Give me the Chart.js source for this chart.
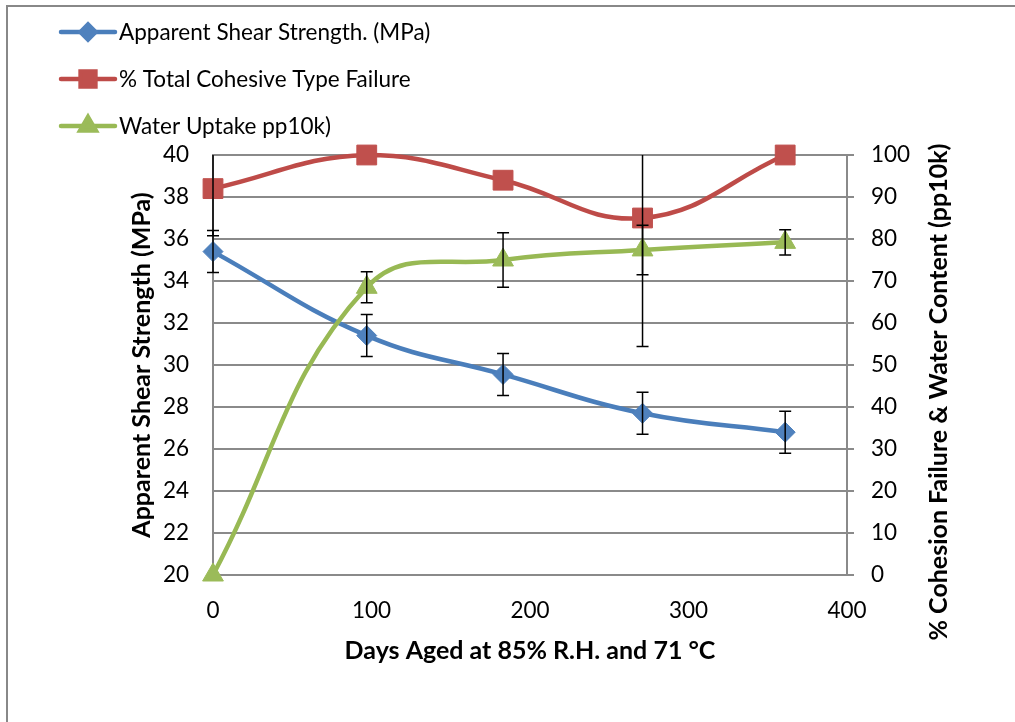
<!DOCTYPE html>
<html>
<head>
<meta charset="utf-8">
<script src="https://cdn.jsdelivr.net/npm/chart.js@4/dist/chart.umd.min.js"></script>
<style>
    html, body { margin: 0; padding: 0; background: #fff; overflow: hidden; }
    #wrap { position: relative; width: 1015px; height: 722px; }
</style>
</head>
<body>
<div id="wrap"><canvas id="agingChart"></canvas></div>
<script>
// Days aged and measured values
const days = [0, 97, 183, 271, 361];
const shearStrength = [35.4, 31.4, 29.55, 27.7, 26.8];
const shearError = [1.0, 1.0, 1.0, 1.0, 1.0];
const cohesiveFailure = [92, 100, 94, 85, 100];
const cohesiveError = [11.2, 0, 0, 30.6, 0];
const waterUptake = [0, 68.5, 75, 77.4, 79.2];
const waterError = [0, 3.7, 6.5, 5.9, 3];

const leftTicks = [20, 22, 24, 26, 28, 30, 32, 34, 36, 38, 40];
const rightTicks = [0, 10, 20, 30, 40, 50, 60, 70, 80, 90, 100];
const xTicks = [0, 100, 200, 300, 400];

const FONT = "Lato, 'Open Sans', sans-serif";
const GRID = '#8a8a8a';
const TICK_SIZE = 22.5;
const TITLE_SIZE = 25;

const toPoints = (ys) => days.map((d, i) => ({ x: d, y: ys[i] }));

// Black error bars with caps, clipped at the plot edges
const errorBars = {
    id: 'errorBars',
    afterDatasetsDraw(chart) {
        const { ctx, chartArea } = chart;
        ctx.save();
        ctx.strokeStyle = '#000';
        ctx.lineWidth = 1.5;
        chart.data.datasets.forEach((ds, i) => {
            if (!ds.errors) return;
            const meta = chart.getDatasetMeta(i);
            const yScale = chart.scales[ds.yAxisID];
            meta.data.forEach((pt, j) => {
                const err = ds.errors[j];
                if (!err) return;
                const v = ds.data[j].y;
                let top = yScale.getPixelForValue(v + err);
                let bot = yScale.getPixelForValue(v - err);
                const capTop = top >= chartArea.top;
                const capBot = bot <= chartArea.bottom;
                top = Math.max(top, chartArea.top);
                bot = Math.min(bot, chartArea.bottom);
                ctx.beginPath();
                ctx.moveTo(pt.x, top);
                ctx.lineTo(pt.x, bot);
                if (capTop) { ctx.moveTo(pt.x - 6, top); ctx.lineTo(pt.x + 6, top); }
                if (capBot) { ctx.moveTo(pt.x - 6, bot); ctx.lineTo(pt.x + 6, bot); }
                ctx.stroke();
            });
        });
        ctx.restore();
    }
};

// Stacked legend in the top-left corner, outer frame and right axis title
const decorations = {
    id: 'decorations',
    beforeDraw(chart) {
        const ctx = chart.ctx;
        ctx.save();
        ctx.strokeStyle = '#888';
        ctx.lineWidth = 2;
        ctx.strokeRect(7, 6, 1100, 800);
        ctx.restore();
    },
    afterDraw(chart) {
        const ctx = chart.ctx;
        const rows = [32, 79, 126];
        ctx.save();
        chart.data.datasets.forEach((ds, i) => {
            const y = rows[i];
            ctx.strokeStyle = ds.borderColor;
            ctx.lineWidth = 4.5;
            ctx.lineCap = 'round';
            ctx.beginPath();
            ctx.moveTo(61, y);
            ctx.lineTo(115, y);
            ctx.stroke();
            ctx.fillStyle = ds.pointBackgroundColor;
            ctx.strokeStyle = ds.pointBackgroundColor;
            Chart.helpers.drawPoint(ctx, {
                pointStyle: ds.pointStyle,
                radius: ds.pointRadius * 0.75,
                rotation: 0,
                borderWidth: 1
            }, 88, y);
            ctx.fillStyle = '#000';
            ctx.font = TICK_SIZE + 'px ' + FONT;
            ctx.textBaseline = 'middle';
            ctx.textAlign = 'left';
            ctx.fillText(ds.label, 119, y + 1);
        });

        const right = chart.scales.yRight;
        ctx.translate(right.right - 17, (chart.chartArea.top + chart.chartArea.bottom) / 2 + 27);
        ctx.rotate(-Math.PI / 2);
        ctx.font = 'bold ' + TITLE_SIZE + 'px ' + FONT;
        ctx.textAlign = 'center';
        ctx.textBaseline = 'middle';
        ctx.fillStyle = '#000';
        ctx.fillText('% Cohesion Failure & Water Content (pp10k)', 0, 0);
        ctx.restore();
    }
};

new Chart(document.getElementById('agingChart'), {
    type: 'line',
    data: {
        datasets: [
            {
                label: 'Apparent Shear Strength. (MPa)',
                data: toPoints(shearStrength),
                errors: shearError,
                yAxisID: 'yLeft',
                borderColor: '#4a7ebb',
                pointBackgroundColor: '#4f81bd',
                pointBorderColor: '#4f81bd',
                pointStyle: 'rectRot',
                pointRadius: 10,
                clip: false,
                order: 2
            },
            {
                label: '% Total Cohesive Type Failure',
                data: toPoints(cohesiveFailure),
                errors: cohesiveError,
                yAxisID: 'yRight',
                borderColor: '#be4b48',
                pointBackgroundColor: '#c0504d',
                pointBorderColor: '#c0504d',
                pointStyle: 'rect',
                pointRadius: 14,
                clip: false,
                order: 1
            },
            {
                label: 'Water Uptake pp10k)',
                data: toPoints(waterUptake),
                errors: waterError,
                yAxisID: 'yRight',
                borderColor: '#98b954',
                pointBackgroundColor: '#9bbb59',
                pointBorderColor: '#9bbb59',
                pointStyle: 'triangle',
                pointRadius: 12,
                clip: false,
                order: 0
            }
        ]
    },
    options: {
        responsive: true,
        maintainAspectRatio: false,
        animation: false,
        layout: { padding: { left: 123, top: 155, right: 59, bottom: 52 } },
        elements: {
            line: { borderWidth: 4.5, tension: 0.42, fill: false },
            point: { borderWidth: 1, hoverRadius: 10 }
        },
        plugins: {
            legend: { display: false },
            tooltip: { enabled: false }
        },
        scales: {
            x: {
                type: 'linear',
                min: 0,
                max: 400,
                afterFit: (s) => { s.height = 95; },
                afterBuildTicks: (s) => { s.ticks = xTicks.map(v => ({ value: v })); },
                grid: { display: false, drawTicks: false },
                border: { display: true, color: GRID, width: 2 },
                ticks: { padding: 22, color: '#000', font: { family: FONT, size: TICK_SIZE }, maxRotation: 0 },
                title: {
                    display: true,
                    text: 'Days Aged at 85% R.H. and 71 °C',
                    color: '#000',
                    font: { family: FONT, size: TITLE_SIZE, weight: 'bold' }
                }
            },
            yLeft: {
                position: 'left',
                min: 20,
                max: 40,
                afterFit: (s) => { s.width = 90; },
                afterBuildTicks: (s) => { s.ticks = leftTicks.map(v => ({ value: v })); },
                grid: { color: GRID, lineWidth: 2, drawTicks: false },
                border: { display: true, color: GRID, width: 2 },
                ticks: { padding: 24, color: '#000', font: { family: FONT, size: TICK_SIZE } },
                title: {
                    display: true,
                    text: 'Apparent Shear Strength (MPa)',
                    color: '#000',
                    font: { family: FONT, size: TITLE_SIZE, weight: 'bold' }
                }
            },
            yRight: {
                position: 'right',
                min: 0,
                max: 100,
                afterFit: (s) => { s.width = 109; },
                afterBuildTicks: (s) => { s.ticks = rightTicks.map(v => ({ value: v })); },
                grid: { drawOnChartArea: false, color: GRID, lineWidth: 2, tickLength: 7 },
                border: { display: true, color: GRID, width: 2 },
                ticks: { padding: 17, color: '#000', font: { family: FONT, size: TICK_SIZE } }
            }
        }
    },
    plugins: [errorBars, decorations]
});
</script>
</body>
</html>
